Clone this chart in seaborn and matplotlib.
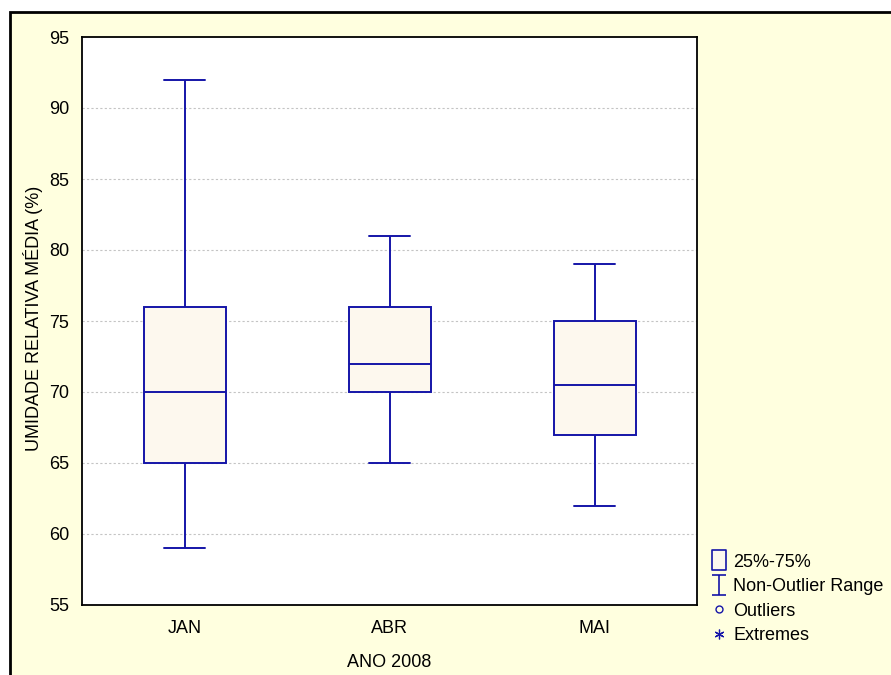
import matplotlib
matplotlib.use("Agg")
import matplotlib.pyplot as plt
from matplotlib.lines import Line2D
from matplotlib.patches import Rectangle
from matplotlib.path import Path
import numpy as np
import pandas as pd
import seaborn as sns

# Monthly relative humidity summary (min, Q1, median, Q3, max)
meses = ["JAN", "ABR", "MAI"]
jan = [59, 65, 70, 76, 92]
abr = [65, 70, 72, 76, 81]
mai = [62, 67, 70.5, 75, 79]
yticks = [55, 60, 65, 70, 75, 80, 85, 90, 95]

sns.set_style("white")
plt.rcParams["font.family"] = ["Liberation Sans", "DejaVu Sans"]
for key in ("text.color", "axes.labelcolor", "xtick.color", "ytick.color"):
    plt.rcParams[key] = "black"

df = pd.DataFrame({
    "mes": np.repeat(meses, 5),
    "ur": jan + abr + mai,
})

BLUE = "#1515a8"
FILL = "#fdf8ee"
PANEL = "#ffffdf"
FS = 13

fig = plt.figure(figsize=(8.91, 6.75), dpi=100, facecolor="white")
fig.patches.append(Rectangle((10 / 891, -0.05), 1.1, 1.05 - 12 / 675,
                             transform=fig.transFigure, facecolor=PANEL,
                             edgecolor="black", linewidth=2, zorder=-5))

ax = fig.add_axes([82 / 891, 1 - 605 / 675, 615 / 891, 568 / 675])
ax.set_facecolor("white")

sns.boxplot(data=df, x="mes", y="ur", order=meses, whis=(0, 100), width=0.4,
            color=FILL, saturation=1, linecolor=BLUE, linewidth=1.4,
            fliersize=0, ax=ax)

ax.set_ylim(55, 95)
ax.set_yticks(yticks)
ax.set_xlim(-0.5, 2.5)
for y in yticks[1:-1]:
    ax.axhline(y, color="#c4c4c4", linestyle=(0, (2, 2)), linewidth=0.8, zorder=0)

for s in ax.spines.values():
    s.set_color("black")
    s.set_linewidth(1.3)
    s.set_visible(True)

ax.tick_params(axis="y", direction="out", length=4, width=1, labelsize=FS, pad=5)
ax.tick_params(axis="x", direction="in", length=4, width=1, labelsize=FS, pad=11)

ax.set_xlabel("ANO 2008", fontsize=FS, labelpad=12)
ax.set_ylabel("UMIDADE RELATIVA MÉDIA (%)", fontsize=FS)
ax.yaxis.set_label_coords(-0.063, 0.505)

# Legend symbols
box_path = Path([(-0.38, -0.5), (0.38, -0.5), (0.38, 0.5), (-0.38, 0.5), (-0.38, -0.5)],
                [Path.MOVETO, Path.LINETO, Path.LINETO, Path.LINETO, Path.CLOSEPOLY])
ibeam = Path([(-0.35, 0.5), (0.35, 0.5), (0, 0.5), (0, -0.5), (-0.35, -0.5), (0.35, -0.5)],
             [Path.MOVETO, Path.LINETO, Path.MOVETO, Path.LINETO, Path.MOVETO, Path.LINETO])
handles = [
    Line2D([], [], linestyle="none", marker=box_path, markersize=14,
           markerfacecolor=FILL, markeredgecolor=BLUE, markeredgewidth=1.2),
    Line2D([], [], linestyle="none", marker=ibeam, markersize=15,
           markerfacecolor="none", markeredgecolor=BLUE, markeredgewidth=1.2),
    Line2D([], [], linestyle="none", marker="o", markersize=5,
           markerfacecolor="none", markeredgecolor=BLUE, markeredgewidth=1),
    Line2D([], [], linestyle="none", marker=(6, 2, 0), markersize=7,
           markeredgecolor=BLUE, markeredgewidth=0.9),
]
labels = ["25%-75%", "Non-Outlier Range", "Outliers", "Extremes"]
fig.legend(handles, labels, loc="lower left", bbox_to_anchor=(697 / 891, 1 - 657 / 675),
           frameon=False, fontsize=FS, handlelength=1.0, handletextpad=0.3,
           labelspacing=0.42, borderpad=0.2)

fig.savefig("out.png", dpi=100, facecolor=fig.get_facecolor())
